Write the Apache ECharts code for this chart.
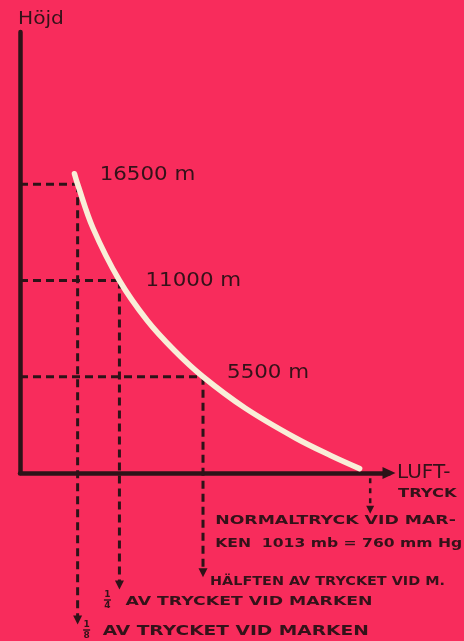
<!DOCTYPE html>
<html>
<head>
<meta charset="utf-8">
<script src="https://cdn.jsdelivr.net/npm/echarts@6/dist/echarts.min.js"></script>
<style>
html,body{margin:0;padding:0;background:#f82c5c;}
#c{width:464px;height:641px;}
</style>
</head>
<body>
<div id="c"></div>
<script>
// ---- data ----
const curvePressure = [117, 126.6, 173, 253.25, 338, 420, 506.5, 635, 787, 893, 981];
const curveHeight   = [17100, 16500, 14000, 11000, 8700, 7000, 5500, 3700, 2000, 1000, 250];
const markPressure  = [126.6, 253.25, 506.5];
const markHeight    = [16500, 11000, 5500];
const markLabels    = ['16500 m', '11000 m', '5500 m'];
const arrowEndHeight = [-8400, -6400, -5700];
const normalPressure = 1013;
const normalStart = -300, normalEnd = -2100;
const xMin = -48, xMax = 1070, yMin = 0, yMax = 25200;
const yName = 'Höjd';
const xName = ['LUFT-', 'TRYCK'];
const normalText = ['NORMALTRYCK VID MAR-', 'KEN  1013 mb = 760 mm Hg'];
const halfText = 'HÄLFTEN AV TRYCKET VID M.';
const quarterText = 'AV TRYCKET VID MARKEN';
const eighthText = 'AV TRYCKET VID MARKEN';

const INK = '#2d1318';
const TEXT = '#341219';
const CREAM = '#f9eed8';
const FONT = '"DejaVu Sans"';

const chart = echarts.init(document.getElementById('c'), null, {renderer: 'canvas'});

const dashStyle = {color: INK, width: 3, type: [8, 5]};
const series = [];
series.push({
  type: 'line', smooth: 0.35, symbol: 'none', clip: false, z: 5,
  data: curvePressure.map((p, i) => [p, curveHeight[i]]),
  lineStyle: {color: CREAM, width: 5.5, cap: 'round'}
});
markPressure.forEach((p, i) => {
  series.push({
    type: 'line', symbol: 'none', clip: false, z: 3,
    data: [[xMin, markHeight[i]], [p, markHeight[i]]],
    lineStyle: dashStyle
  });
  series.push({
    type: 'line', symbol: 'none', clip: false, z: 3,
    data: [
      {value: [p, markHeight[i]]},
      {value: [p, arrowEndHeight[i]], symbol: 'triangle', symbolSize: [9, 9], symbolRotate: 180,
       itemStyle: {color: INK}}
    ],
    lineStyle: dashStyle
  });
});
series.push({
  type: 'line', symbol: 'none', clip: false, z: 3,
  data: [
    {value: [normalPressure, normalStart]},
    {value: [normalPressure, normalEnd], symbol: 'triangle', symbolSize: [8, 8], symbolRotate: 180,
     itemStyle: {color: INK}}
  ],
  lineStyle: {color: INK, width: 2.5, type: [5, 5]}
});

chart.setOption({
  backgroundColor: '#f82c5c',
  animation: false,
  grid: {left: 20, right: 75, top: 32, bottom: 168},
  xAxis: {
    type: 'value', min: xMin, max: xMax,
    axisLine: {show: true, onZero: false, lineStyle: {color: INK, width: 4.5},
      symbol: ['none', 'triangle'], symbolSize: [12, 13]},
    axisTick: {show: false}, axisLabel: {show: false}, splitLine: {show: false}
  },
  yAxis: {
    type: 'value', min: yMin, max: yMax,
    axisLine: {show: true, onZero: false, lineStyle: {color: INK, width: 4.5, cap: 'round'}},
    axisTick: {show: false}, axisLabel: {show: false}, splitLine: {show: false}
  },
  series: series
});

function px(p, h) { return chart.convertToPixel({gridIndex: 0}, [p, h]); }
function txt(anchor, dx, dy, text, size, weight, sx) {
  return {
    type: 'text', x: anchor[0] + dx, y: anchor[1] + dy, scaleX: sx || 1, z: 10,
    style: {text: text, font: weight + ' ' + size + 'px ' + FONT, fill: TEXT,
      textAlign: 'left', textVerticalAlign: 'middle', align: 'left', verticalAlign: 'middle'}
  };
}
function frac(anchor, dx, dy, num, den) {
  const x = anchor[0] + dx, y = anchor[1] + dy;
  return [
    {type: 'text', x: x, y: y - 5.5, z: 10, style: {text: num, font: 'bold 9px ' + FONT, fill: TEXT,
      textAlign: 'center', textVerticalAlign: 'middle', align: 'center', verticalAlign: 'middle'}},
    {type: 'line', z: 10, shape: {x1: x - 3.5, y1: y, x2: x + 3.5, y2: y}, style: {stroke: TEXT, lineWidth: 1.4}},
    {type: 'text', x: x, y: y + 6, z: 10, style: {text: den, font: 'bold 9px ' + FONT, fill: TEXT,
      textAlign: 'center', textVerticalAlign: 'middle', align: 'center', verticalAlign: 'middle'}}
  ];
}

const g = [];
const topLeft = px(xMin, yMax);
const xEnd = px(xMax, 0);
g.push(txt(topLeft, -2, -13, yName, 18, 'normal', 1.12));
g.push(txt(xEnd, 8, 0, xName[0], 20, 'normal', 1.0));
g.push(txt(xEnd, 9, 21, xName[1], 12, 'bold', 1.36));
markPressure.forEach((p, i) => {
  const a = px(p, markHeight[i]);
  const offs = [[22, -9], [26, 0], [24, -4]][i];
  g.push(txt(a, offs[0], offs[1], markLabels[i], 20, 'normal', 1.07));
});
const nA = px(normalPressure, normalEnd);
g.push(txt(nA, -155, 11, normalText[0], 13, 'bold', 1.33));
g.push(txt(nA, -155, 34, normalText[1], 13, 'bold', 1.2));
const hA = px(markPressure[2], arrowEndHeight[2]);
g.push(txt(hA, 7, 9, halfText, 12, 'bold', 1.2));
const qA = px(markPressure[1], arrowEndHeight[1]);
frac(qA, -12, 15, '1', '4').forEach(e => g.push(e));
g.push(txt(qA, 6, 17, quarterText, 13, 'bold', 1.33));
const eA = px(markPressure[0], arrowEndHeight[0]);
frac(eA, 9, 10, '1', '8').forEach(e => g.push(e));
g.push(txt(eA, 25, 11, eighthText, 14, 'bold', 1.33));

chart.setOption({graphic: g});
</script>
</body>
</html>
